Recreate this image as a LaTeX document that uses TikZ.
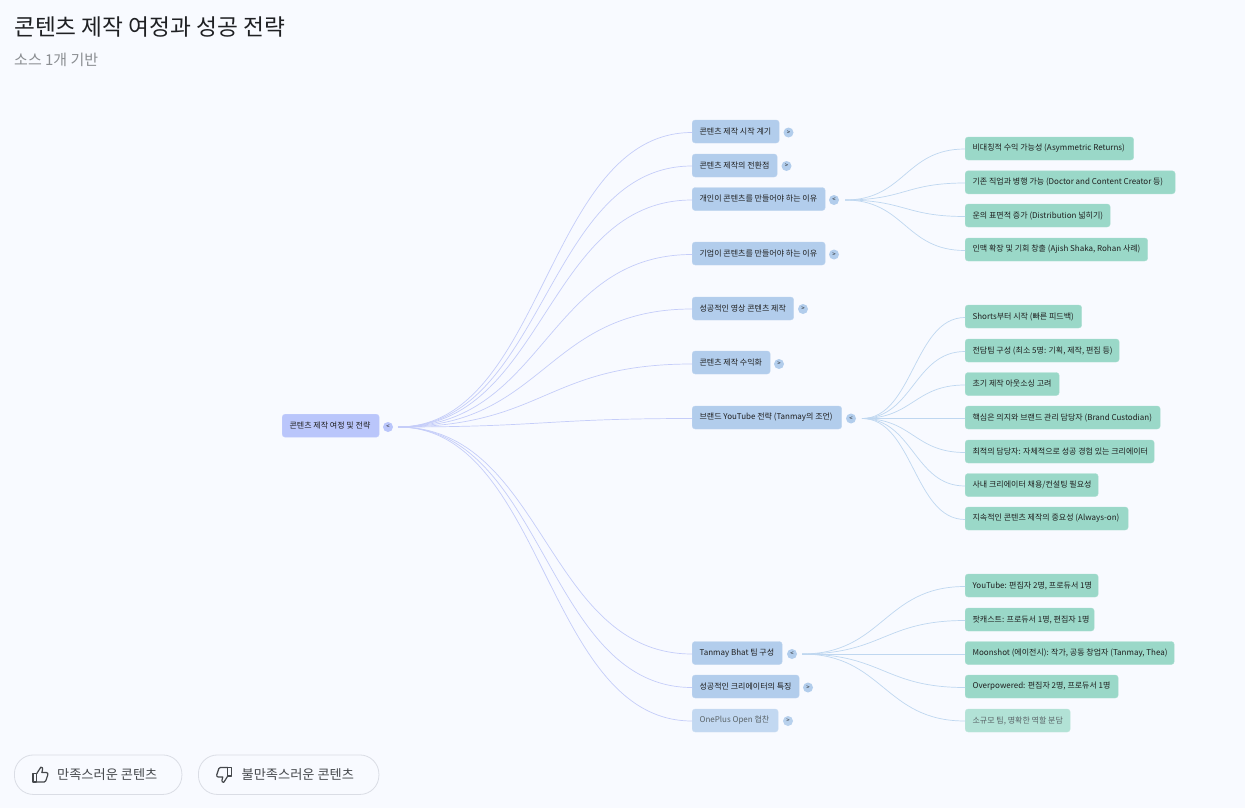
\documentclass[tikz,border=0pt]{standalone}
\usepackage{fontspec}
\setmainfont{Noto Sans CJK KR}
\definecolor{pagebg}{HTML}{F8FAFF}
\definecolor{rootfill}{HTML}{BAC6FB}
\definecolor{midfill}{HTML}{B2CDEC}
\definecolor{midfade}{HTML}{C2D8F1}
\definecolor{leaffill}{HTML}{9AD8C8}
\definecolor{leaffade}{HTML}{B2E2D6}
\definecolor{rootedge}{HTML}{C5CDF9}
\definecolor{leafedge}{HTML}{BFD7F0}
\definecolor{inktext}{HTML}{1F1F1F}
\definecolor{fadetext}{HTML}{5A6468}
\definecolor{titletext}{HTML}{1F2023}
\definecolor{subtext}{HTML}{8B8E92}
\definecolor{btntext}{HTML}{45484C}
\definecolor{btnline}{HTML}{DADDE5}
\tikzset{
  cardw/.style={minimum width=#1pt,
    execute at begin node={\hbox to \dimexpr#1pt-14.8pt\relax\bgroup},execute at end node={\hss\egroup}},
  card/.style={rectangle,rounded corners=3pt,anchor=west,inner sep=0pt,minimum height=23pt,
    font=\fontsize{8}{10}\selectfont,text=inktext},
  rootcard/.style={card,fill=rootfill,draw=rootfill!85!white,line width=.4pt},
  midcard/.style={card,fill=midfill,draw=midfill!85!white,line width=.4pt},
  midfaded/.style={card,fill=midfade,draw=midfade!85!white,line width=.4pt,text=fadetext},
  leafcard/.style={card,fill=leaffill,draw=leaffill!85!white,line width=.4pt},
  leaffaded/.style={card,fill=leaffade,draw=leaffade!85!white,line width=.4pt,text=fadetext},
  toggle/.style={circle,minimum size=10pt,inner sep=0pt,fill=midfill,
    font=\fontsize{6}{6}\selectfont,text=inktext},
  roottoggle/.style={toggle,fill=rootfill},
  rootlink/.style={draw=rootedge,line width=.7pt},
  leaflink/.style={draw=leafedge,line width=.7pt},
  button/.style={rectangle,rounded corners=19pt,draw=btnline,line width=.8pt,fill=pagebg,
    anchor=west,inner sep=0pt,minimum height=39.5pt},
  btnlabel/.style={anchor=base west,inner sep=0pt,font=\fontsize{13.2}{15}\selectfont,text=btntext},
  icon/.style={draw=btntext,line width=1.2pt,line join=round,fill=none}
}
\begin{document}
\begin{tikzpicture}[x=1pt,y=-1pt]
\useasboundingbox[fill=pagebg] (0,0) rectangle (1245,808);

\node[anchor=base west,inner sep=0pt,text=titletext,font=\fontsize{22.7}{26}\selectfont] (title) at (14,36) {콘텐츠 제작 여정과 성공 전략};
\node[anchor=base west,inner sep=0pt,text=subtext,font=\fontsize{15}{18}\selectfont] (subtitle) at (14,66) {소스 1개 기반};

% root
\node[rootcard,cardw=97] (root) at (282,425.7) {콘텐츠 제작 여정 및 전략};
\node[roottoggle] (roott) at (388,427) {<};
\coordinate (rs) at (398,427);

% middle level
\node[midcard,cardw=87] (m1) at (692,131.5) {콘텐츠 제작 시작 계기};
\node[midcard,cardw=85] (m2) at (692,165.5) {콘텐츠 제작의 전환점};
\node[midcard,cardw=133] (m3) at (692,199) {개인이 콘텐츠를 만들어야 하는 이유};
\node[midcard,cardw=133] (m4) at (692,253.5) {기업이 콘텐츠를 만들어야 하는 이유};
\node[midcard,cardw=101.5] (m5) at (692,308.5) {성공적인 영상 콘텐츠 제작};
\node[midcard,cardw=78] (m6) at (692,362.5) {콘텐츠 제작 수익화};
\node[midcard,cardw=149.5] (m7) at (692,417.5) {브랜드 YouTube 전략 (Tanmay의 조언)};
\node[midcard,cardw=90] (m8) at (692,653) {Tanmay Bhat 팀 구성};
\node[midcard,cardw=107] (m9) at (692,686.5) {성공적인 크리에이터의 특징};
\node[midfaded,cardw=86] (m10) at (692,720.5) {OnePlus Open 협찬};

\node[toggle] (t1) at (788.5,132.5) {>};
\node[toggle] (t2) at (786.5,166) {>};
\node[toggle] (t3) at (834,200) {<};
\node[toggle] (t4) at (834,254.5) {>};
\node[toggle] (t5) at (803,309) {>};
\node[toggle] (t6) at (779,364) {>};
\node[toggle] (t7) at (851,418.5) {<};
\node[toggle] (t8) at (792,654) {<};
\node[toggle] (t9) at (808,687.5) {>};
\node[toggle,opacity=.9] (t10) at (788,721) {>};

\coordinate (s3) at (845,200);
\coordinate (s7) at (862,418.5);
\coordinate (s8) at (802,654);

% leaves group 1
\node[leafcard,cardw=168.5] (a1) at (965,148.5) {비대칭적 수익 가능성 (Asymmetric Returns)};
\node[leafcard,cardw=210] (a2) at (965,182.3) {기존 직업과 병행 가능 (Doctor and Content Creator 등)};
\node[leafcard,cardw=145] (a3) at (965,215.5) {운의 표면적 증가 (Distribution 넓히기)};
\node[leafcard,cardw=182.5] (a4) at (965,249.5) {인맥 확장 및 기회 창출 (Ajish Shaka, Rohan 사례)};

% leaves group 2
\node[leafcard,cardw=116.5] (b1) at (965,316.5) {Shorts부터 시작 (빠른 피드백)};
\node[leafcard,cardw=154] (b2) at (965,350.5) {전담팀 구성 (최소 5명: 기획, 제작, 편집 등)};
\node[leafcard,cardw=94] (b3) at (965,384) {초기 제작 아웃소싱 고려};
\node[leafcard,cardw=195] (b4) at (965,417.5) {핵심은 의지와 브랜드 관리 담당자 (Brand Custodian)};
\node[leafcard,cardw=189] (b5) at (965,451.5) {최적의 담당자: 자체적으로 성공 경험 있는 크리에이터};
\node[leafcard,cardw=133] (b6) at (965,485) {사내 크리에이터 채용/컨설팅 필요성};
\node[leafcard,cardw=163] (b7) at (965,518.5) {지속적인 콘텐츠 제작의 중요성 (Always-on)};

% leaves group 3
\node[leafcard,cardw=133] (c1) at (965,585.5) {YouTube: 편집자 2명, 프로듀서 1명};
\node[leafcard,cardw=129] (c2) at (965,619.5) {팟캐스트: 프로듀서 1명, 편집자 1명};
\node[leafcard,cardw=209] (c3) at (965,653) {Moonshot (에이전시): 작가, 공동 창업자 (Tanmay, Thea)};
\node[leafcard,cardw=153] (c4) at (965,686.5) {Overpowered: 편집자 2명, 프로듀서 1명};
\node[leaffaded,cardw=105] (c5) at (965,720.5) {소규모 팀, 명확한 역할 분담};

% connectors
\foreach \m/\yy in {m1/132.5,m2/166,m3/200,m4/254.5,m5/309,m6/364,m7/418.5,m8/654,m9/687.5,m10/721}
  \draw[rootlink] (rs) .. controls +(147,0) and +(-147,0) .. (\m.west |- 0,\yy);
\foreach \n/\yy in {a1/149,a2/183,a3/216.5,a4/250.5}
  \draw[leaflink] (s3) .. controls +(60,0) and +(-60,0) .. (\n.west |- 0,\yy);
\foreach \n/\yy in {b1/317.5,b2/351.5,b3/385,b4/418.5,b5/452.5,b6/486,b7/519.5}
  \draw[leaflink] (s7) .. controls +(51,0) and +(-51,0) .. (\n.west |- 0,\yy);
\foreach \n/\yy in {c1/586.5,c2/620.5,c3/654,c4/687.5,c5/721}
  \draw[leaflink] (s8) .. controls +(81,0) and +(-81,0) .. (\n.west |- 0,\yy);

% buttons
\node[button,minimum width=167.5pt] (like) at (14,774.7) {};
\node[button,minimum width=180.5pt] (dislike) at (198,774.7) {};
\node[btnlabel] (liketext) at (57,779.5) {만족스러운 콘텐츠};
\node[btnlabel] (disliketext) at (241.5,779.5) {불만족스러운 콘텐츠};
\draw[icon] (33,773.5) rectangle (36.8,782);
\draw[icon] (36.8,773.5) -- (40.8,767.2) .. controls (42.2,767) and (43,768) .. (42.6,769.5) -- (41.8,772.5) -- (46.3,772.5) .. controls (47.6,772.5) and (48.2,773.6) .. (47.8,774.8) -- (45.8,780.8) .. controls (45.5,781.6) and (45,782) .. (44.2,782) -- (36.8,782);
\draw[icon] (227.8,767.5) rectangle (231.6,776);
\draw[icon] (227.8,776) -- (223.8,782.3) .. controls (222.4,782.5) and (221.6,781.5) .. (222,780) -- (222.8,777) -- (218.3,777) .. controls (217,777) and (216.4,775.9) .. (216.8,774.7) -- (218.8,768.7) .. controls (219.1,767.9) and (219.6,767.5) .. (220.4,767.5) -- (227.8,767.5);
\end{tikzpicture}
\end{document}
